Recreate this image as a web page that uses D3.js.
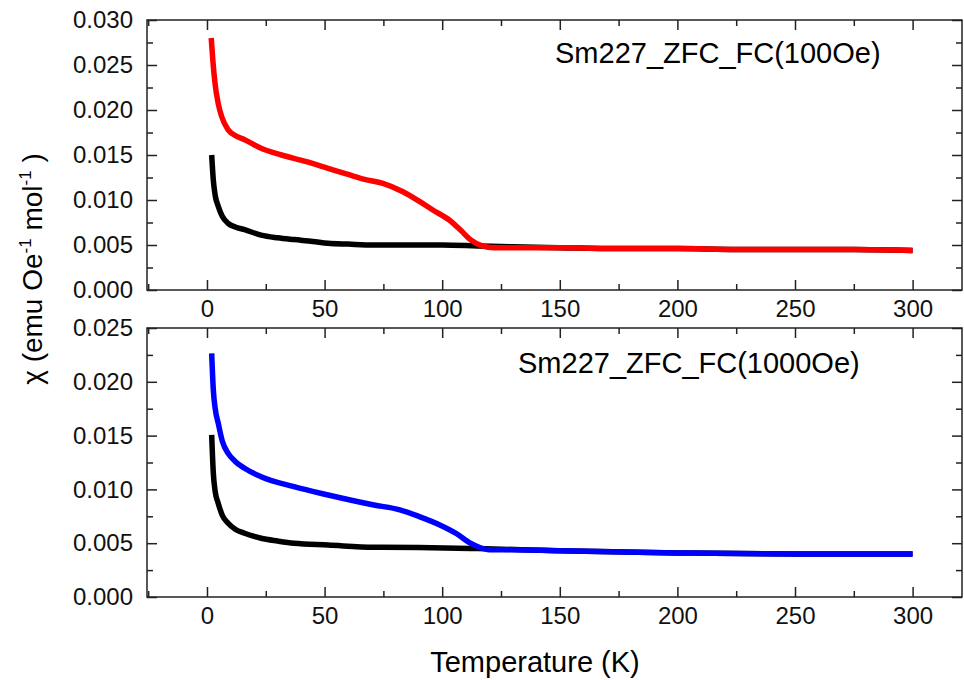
<!DOCTYPE html>
<html>
<head>
<meta charset="utf-8">
<script src="https://cdn.jsdelivr.net/npm/d3@7/dist/d3.min.js"></script>
<style>
  body { margin: 0; background: #fff; }
  text { font-family: "Liberation Sans", Arial, sans-serif; }
</style>
</head>
<body>
<div id="container"></div>
<script>
const width = 964
const height = 680

// x ticks / y ticks
const xMajor = [0, 50, 100, 150, 200, 250, 300]
const xMinor = [-25, 25, 75, 125, 175, 225, 275]
const yTopMajor = [0, 0.005, 0.010, 0.015, 0.020, 0.025, 0.030]
const yBotMajor = [0, 0.005, 0.010, 0.015, 0.020, 0.025]

// 100 Oe panel
const tZfc100 = [2, 2.7, 3.5, 4.8, 6.5, 9, 12, 16, 23, 30, 37, 45, 51.5, 60, 71, 85, 100, 115, 130, 150, 175, 200, 225, 250, 275, 300]
const zfc100 = [0.0150, 0.0122, 0.0105, 0.0093, 0.0082, 0.0074, 0.0070, 0.0067, 0.0061, 0.0058, 0.0056, 0.0054, 0.0052, 0.0051, 0.0050, 0.0050, 0.0050, 0.0049, 0.0048, 0.0047, 0.0046, 0.0046, 0.0045, 0.0045, 0.0045, 0.0044]
const tFc100 = [1.8, 2.5, 3.4, 4.8, 6.2, 9, 13.3, 16, 23, 31.7, 42.3, 51.5, 60.7, 67, 74.8, 83.3, 90, 96, 103, 108, 112, 117, 122, 130, 150, 175, 200, 225, 250, 275, 300]
const fc100 = [0.0280, 0.0255, 0.0230, 0.0207, 0.0193, 0.0178, 0.0170, 0.0167, 0.01574, 0.0150, 0.01426, 0.01352, 0.01278, 0.0123, 0.01185, 0.01092, 0.0099, 0.00889, 0.00778, 0.0066, 0.0056, 0.0049, 0.0047, 0.0047, 0.0047, 0.0046, 0.0046, 0.0045, 0.0045, 0.0045, 0.0044]

// 1000 Oe panel
const tZfc1000 = [2, 2.7, 3.5, 4.8, 6.5, 9, 12, 16, 23, 30, 37, 51.5, 71, 90, 115, 150, 200, 250, 300]
const zfc1000 = [0.01506, 0.0115, 0.0098, 0.0087, 0.0076, 0.00685, 0.0063, 0.00592, 0.00546, 0.0052, 0.00499, 0.00483, 0.00462, 0.0046, 0.0045, 0.0043, 0.0041, 0.0040, 0.0040]
const tFc1000 = [2, 2.7, 3.5, 4.8, 6.5, 9, 12, 16, 23, 37, 51.5, 71, 82, 90, 99, 106, 112, 116, 120, 130, 150, 200, 250, 300]
const fc1000 = [0.02265, 0.01924, 0.0175, 0.01614, 0.0145, 0.01335, 0.0126, 0.01196, 0.01118, 0.01025, 0.00948, 0.00855, 0.0081, 0.0075, 0.0067, 0.0059, 0.0050, 0.0046, 0.0044, 0.0044, 0.0043, 0.0041, 0.0040, 0.0040]

const svg = d3.select("#container")
  .append("svg")
  .attr("width", width)
  .attr("height", height)

const left = 147, right = 962

const x = d3.scaleLinear().domain([-25.5, 321]).range([left, right])

function panel(top, bottom, ymax, yMajor, series, label, labelX, labelY) {
  const y = d3.scaleLinear().domain([0, ymax]).range([bottom, top])
  const yMinor = d3.range(0.0025, ymax, 0.005)
  const g = svg.append("g")

  const line = d3.line().x(d => x(d[0])).y(d => y(d[1])).curve(d3.curveMonotoneX)
  series.forEach(s => {
    g.append("path")
      .attr("d", line(d3.zip(s.t, s.v)))
      .attr("fill", "none")
      .attr("stroke", s.color)
      .attr("stroke-width", 5.5)
      .attr("stroke-linejoin", "round")
  })

  // axes (ticks pointing inward)
  const fmt = d3.format(".3f")
  const bx = g.append("g").attr("transform", `translate(0,${bottom})`)
    .call(d3.axisBottom(x).tickValues(xMajor).tickSize(-10).tickPadding(10).tickFormat(d3.format("d")))
  bx.append("g").call(d3.axisBottom(x).tickValues(xMinor).tickSize(-6).tickFormat(""))
  const tx = g.append("g").attr("transform", `translate(0,${top})`)
    .call(d3.axisTop(x).tickValues(xMajor).tickSize(-10).tickFormat(""))
  tx.append("g").call(d3.axisTop(x).tickValues(xMinor).tickSize(-6).tickFormat(""))
  const ly = g.append("g").attr("transform", `translate(${left},0)`)
    .call(d3.axisLeft(y).tickValues(yMajor).tickSize(-10).tickPadding(14).tickFormat(fmt))
  ly.append("g").call(d3.axisLeft(y).tickValues(yMinor).tickSize(-6).tickFormat(""))
  const ry = g.append("g").attr("transform", `translate(${right},0)`)
    .call(d3.axisRight(y).tickValues(yMajor).tickSize(-10).tickFormat(""))
  ry.append("g").call(d3.axisRight(y).tickValues(yMinor).tickSize(-6).tickFormat(""))

  g.selectAll(".domain").remove()
  g.selectAll(".tick line").attr("stroke", "#222").attr("stroke-width", 1.5)
  g.selectAll(".tick text").attr("font-size", 24).attr("fill", "#111")
    .attr("font-family", "Liberation Sans, Arial, sans-serif")

  g.append("rect")
    .attr("x", left).attr("y", top)
    .attr("width", right - left).attr("height", bottom - top)
    .attr("fill", "none").attr("stroke", "#222").attr("stroke-width", 1.5)

  g.append("text")
    .attr("x", labelX).attr("y", labelY)
    .attr("font-size", 29)
    .text(label)
}

panel(20, 290, 0.030, yTopMajor,
  [{t: tZfc100, v: zfc100, color: "#000"}, {t: tFc100, v: fc100, color: "#ff0000"}],
  "Sm227_ZFC_FC(100Oe)", 555, 63)

panel(328, 597, 0.025, yBotMajor,
  [{t: tZfc1000, v: zfc1000, color: "#000"}, {t: tFc1000, v: fc1000, color: "#0000ff"}],
  "Sm227_ZFC_FC(1000Oe)", 518, 373)

// axis titles
svg.append("text")
  .attr("x", 535).attr("y", 672)
  .attr("text-anchor", "middle")
  .attr("font-size", 29)
  .text("Temperature (K)")

const yl = svg.append("text")
  .attr("transform", "translate(42,269) rotate(-90)")
  .attr("text-anchor", "middle")
  .attr("font-size", 28)
yl.append("tspan").text("\u03c7 (emu Oe")
yl.append("tspan").attr("dy", -11).attr("font-size", 17).text("-1")
yl.append("tspan").attr("dy", 11).text(" mol")
yl.append("tspan").attr("dy", -11).attr("font-size", 17).text("-1")
yl.append("tspan").attr("dy", 11).text(" )")
</script>
</body>
</html>
